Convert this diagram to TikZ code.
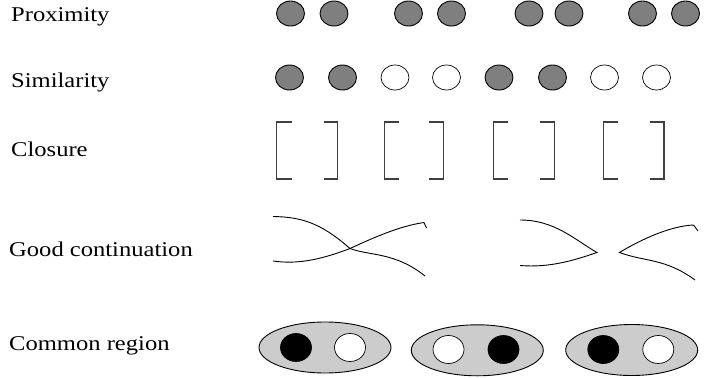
\documentclass[tikz,border=0pt]{standalone}
\usepackage{fontspec}
\setmainfont[FakeStretch=1.17]{Liberation Serif}
\usetikzlibrary{shapes.geometric}
\definecolor{dotgray}{HTML}{7F7F7F}
\definecolor{regiongray}{HTML}{CCCCCC}
\tikzset{
  lbl/.style={anchor=base west, inner sep=0pt, font=\fontsize{21}{24}\selectfont},
  gdot/.style={ellipse, draw=black, line width=0.9pt, fill=dotgray, minimum width=28pt, minimum height=25pt, inner sep=0pt},
  wdot/.style={ellipse, draw=black, line width=0.7pt, fill=white, minimum width=28pt, minimum height=25pt, inner sep=0pt},
  bdot/.style={ellipse, draw=black, line width=0.7pt, fill=black, minimum width=31pt, minimum height=28pt, inner sep=0pt},
  cwdot/.style={ellipse, draw=black, line width=0.7pt, fill=white, minimum width=31pt, minimum height=28pt, inner sep=0pt},
  region/.style={ellipse, draw=black, line width=0.9pt, fill=regiongray, minimum width=132pt, minimum height=51pt, inner sep=0pt},
  brk/.style={draw=black!75, line width=1.3pt},
  crv/.style={draw=black, line width=0.9pt},
}
\begin{document}
\begin{tikzpicture}[x=1pt,y=-1pt]
\useasboundingbox (0,0) rectangle (705,378);
% labels
\node[lbl] (lprox) at (11,21) {Proximity};
\node[lbl] (lsim) at (11,87) {Similarity};
\node[lbl] (lclos) at (11,156.5) {Closure};
\node[lbl] (lgood) at (9,256.5) {Good continuation};
\node[lbl] (lcomm) at (9,350.5) {Common region};
% proximity
\foreach \i/\x in {1/290.5,2/334,3/408.5,4/451.5,5/529,6/569,7/642.5,8/685.5}
  \node[gdot] (p\i) at (\x,13.5) {};
% similarity
\foreach \i/\x/\s in {1/289.5/gdot,2/342.5/gdot,3/395/wdot,4/446.5/wdot,5/499/gdot,6/552.5/gdot,7/604.5/wdot,8/656.5/wdot}
  \node[\s] (s\i) at (\x,77.5) {};
% closure
\foreach \i/\a/\b in {1/276.7/337.7,2/384.3/443.3,3/493.3/554.3,4/603.3/664}{
  \draw[brk] (\a+15,122) -- (\a,122) -- (\a,179) -- (\a+15,179);
  \draw[brk] (\b-14,122) -- (\b,122) -- (\b,179) -- (\b-14,179);
}
% good continuation: crossing
\coordinate (x1s) at (273,216.5);
\coordinate (xc) at (350,248.5);
\coordinate (x1e) at (425,276);
\coordinate (x2s) at (273,261);
\coordinate (x2e) at (424,222.5);
\draw[crv] (x1s) .. controls (300,217) and (320,222) .. (xc)
  .. controls (370,256) and (395,252) .. (x1e);
\draw[crv] (x2s) .. controls (300,265) and (325,258) .. (xc)
  .. controls (375,237) and (400,226) .. (x2e) -- (426.5,228);
% good continuation: touching
\coordinate (t1s) at (520,220);
\coordinate (t1m) at (597,252.5);
\coordinate (t1e) at (520,265.5);
\coordinate (t2m) at (619.5,252.5);
\coordinate (t2s) at (693.5,225);
\coordinate (t2e) at (695,280);
\draw[crv] (t1s) .. controls (555,220) and (575,240) .. (t1m)
  .. controls (575,260) and (550,268) .. (t1e);
\draw[crv] (t2s) -- (698,231);
\draw[crv] (t2s) .. controls (670,226) and (640,240) .. (t2m)
  .. controls (645,262) and (665,258) .. (t2e);
% common region
\node[region] (r1) at (325,347.5) {};
\node[bdot] (r1a) at (296,347.5) {};
\node[cwdot] (r1b) at (350,347.5) {};
\node[region] (r2) at (477.3,350.3) {};
\node[cwdot] (r2a) at (448.5,349.5) {};
\node[bdot] (r2b) at (503.5,349.5) {};
\node[region] (r3) at (631.7,350) {};
\node[bdot] (r3a) at (603.3,349.5) {};
\node[cwdot] (r3b) at (658.3,349.5) {};
\end{tikzpicture}
\end{document}
